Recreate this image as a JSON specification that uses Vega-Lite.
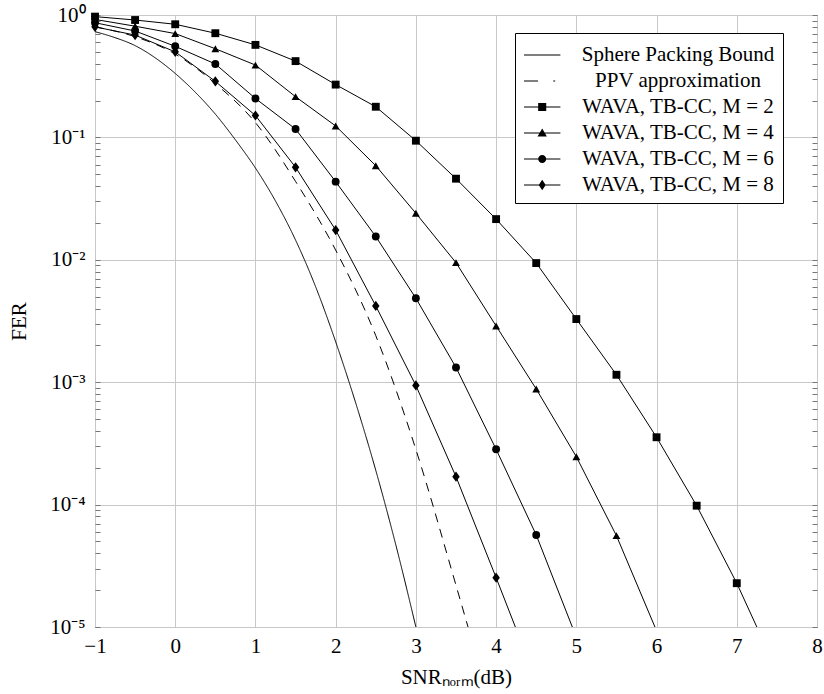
{
  "$schema": "https://vega.github.io/schema/vega-lite/v6.json",
  "width": 722,
  "height": 612,
  "autosize": {"type": "none"},
  "padding": {"left": 95, "top": 15, "right": 7, "bottom": 67},
  "background": "white",
  "config": {
    "view": {"stroke": "black", "strokeWidth": 1},
    "font": "Liberation Serif"
  },
  "data": {
    "values": [
      {"series": "Sphere Packing Bound", "snr": -1, "fer": 0.731},
      {"series": "Sphere Packing Bound", "snr": -0.75, "fer": 0.653},
      {"series": "Sphere Packing Bound", "snr": -0.5, "fer": 0.562},
      {"series": "Sphere Packing Bound", "snr": -0.25, "fer": 0.447},
      {"series": "Sphere Packing Bound", "snr": 0, "fer": 0.333},
      {"series": "Sphere Packing Bound", "snr": 0.25, "fer": 0.234},
      {"series": "Sphere Packing Bound", "snr": 0.5, "fer": 0.155},
      {"series": "Sphere Packing Bound", "snr": 0.75, "fer": 0.0955},
      {"series": "Sphere Packing Bound", "snr": 1, "fer": 0.0562},
      {"series": "Sphere Packing Bound", "snr": 1.25, "fer": 0.0302},
      {"series": "Sphere Packing Bound", "snr": 1.5, "fer": 0.0145},
      {"series": "Sphere Packing Bound", "snr": 1.75, "fer": 0.00603},
      {"series": "Sphere Packing Bound", "snr": 2, "fer": 0.00214},
      {"series": "Sphere Packing Bound", "snr": 2.25, "fer": 0.000676},
      {"series": "Sphere Packing Bound", "snr": 2.5, "fer": 0.0001905},
      {"series": "Sphere Packing Bound", "snr": 2.75, "fer": 0.0000468},
      {"series": "Sphere Packing Bound", "snr": 3, "fer": 0.00001},
      {"series": "PPV approximation", "snr": -1, "fer": 0.8},
      {"series": "PPV approximation", "snr": -0.5, "fer": 0.665},
      {"series": "PPV approximation", "snr": 0, "fer": 0.48},
      {"series": "PPV approximation", "snr": 0.5, "fer": 0.275},
      {"series": "PPV approximation", "snr": 1, "fer": 0.132},
      {"series": "PPV approximation", "snr": 1.5, "fer": 0.0437},
      {"series": "PPV approximation", "snr": 2, "fer": 0.012},
      {"series": "PPV approximation", "snr": 2.5, "fer": 0.0024},
      {"series": "PPV approximation", "snr": 3, "fer": 0.000282},
      {"series": "PPV approximation", "snr": 3.5, "fer": 0.0000219},
      {"series": "PPV approximation", "snr": 3.65, "fer": 0.00001},
      {"series": "WAVA, TB-CC, M = 2", "snr": -1, "fer": 0.97},
      {"series": "WAVA, TB-CC, M = 2", "snr": -0.5, "fer": 0.91},
      {"series": "WAVA, TB-CC, M = 2", "snr": 0, "fer": 0.84},
      {"series": "WAVA, TB-CC, M = 2", "snr": 0.5, "fer": 0.71},
      {"series": "WAVA, TB-CC, M = 2", "snr": 1, "fer": 0.57},
      {"series": "WAVA, TB-CC, M = 2", "snr": 1.5, "fer": 0.42},
      {"series": "WAVA, TB-CC, M = 2", "snr": 2, "fer": 0.27},
      {"series": "WAVA, TB-CC, M = 2", "snr": 2.5, "fer": 0.178},
      {"series": "WAVA, TB-CC, M = 2", "snr": 3, "fer": 0.094},
      {"series": "WAVA, TB-CC, M = 2", "snr": 3.5, "fer": 0.046},
      {"series": "WAVA, TB-CC, M = 2", "snr": 4, "fer": 0.0215},
      {"series": "WAVA, TB-CC, M = 2", "snr": 4.5, "fer": 0.0094},
      {"series": "WAVA, TB-CC, M = 2", "snr": 5, "fer": 0.00328},
      {"series": "WAVA, TB-CC, M = 2", "snr": 5.5, "fer": 0.00115},
      {"series": "WAVA, TB-CC, M = 2", "snr": 6, "fer": 0.000355},
      {"series": "WAVA, TB-CC, M = 2", "snr": 6.5, "fer": 0.000098},
      {"series": "WAVA, TB-CC, M = 2", "snr": 7, "fer": 0.0000228},
      {"series": "WAVA, TB-CC, M = 2", "snr": 7.25, "fer": 0.00001},
      {"series": "WAVA, TB-CC, M = 4", "snr": -1, "fer": 0.92},
      {"series": "WAVA, TB-CC, M = 4", "snr": -0.5, "fer": 0.81},
      {"series": "WAVA, TB-CC, M = 4", "snr": 0, "fer": 0.705},
      {"series": "WAVA, TB-CC, M = 4", "snr": 0.5, "fer": 0.53},
      {"series": "WAVA, TB-CC, M = 4", "snr": 1, "fer": 0.39},
      {"series": "WAVA, TB-CC, M = 4", "snr": 1.5, "fer": 0.215},
      {"series": "WAVA, TB-CC, M = 4", "snr": 2, "fer": 0.124},
      {"series": "WAVA, TB-CC, M = 4", "snr": 2.5, "fer": 0.0587},
      {"series": "WAVA, TB-CC, M = 4", "snr": 3, "fer": 0.024},
      {"series": "WAVA, TB-CC, M = 4", "snr": 3.5, "fer": 0.00947},
      {"series": "WAVA, TB-CC, M = 4", "snr": 4, "fer": 0.00288},
      {"series": "WAVA, TB-CC, M = 4", "snr": 4.5, "fer": 0.00088},
      {"series": "WAVA, TB-CC, M = 4", "snr": 5, "fer": 0.000246},
      {"series": "WAVA, TB-CC, M = 4", "snr": 5.5, "fer": 0.0000557},
      {"series": "WAVA, TB-CC, M = 4", "snr": 5.98, "fer": 0.00001},
      {"series": "WAVA, TB-CC, M = 6", "snr": -1, "fer": 0.865},
      {"series": "WAVA, TB-CC, M = 6", "snr": -0.5, "fer": 0.74},
      {"series": "WAVA, TB-CC, M = 6", "snr": 0, "fer": 0.555},
      {"series": "WAVA, TB-CC, M = 6", "snr": 0.5, "fer": 0.398},
      {"series": "WAVA, TB-CC, M = 6", "snr": 1, "fer": 0.208},
      {"series": "WAVA, TB-CC, M = 6", "snr": 1.5, "fer": 0.117},
      {"series": "WAVA, TB-CC, M = 6", "snr": 2, "fer": 0.0435},
      {"series": "WAVA, TB-CC, M = 6", "snr": 2.5, "fer": 0.0155},
      {"series": "WAVA, TB-CC, M = 6", "snr": 3, "fer": 0.00485},
      {"series": "WAVA, TB-CC, M = 6", "snr": 3.5, "fer": 0.00132},
      {"series": "WAVA, TB-CC, M = 6", "snr": 4, "fer": 0.000283},
      {"series": "WAVA, TB-CC, M = 6", "snr": 4.5, "fer": 0.0000565},
      {"series": "WAVA, TB-CC, M = 6", "snr": 4.95, "fer": 0.00001},
      {"series": "WAVA, TB-CC, M = 8", "snr": -1, "fer": 0.8},
      {"series": "WAVA, TB-CC, M = 8", "snr": -0.5, "fer": 0.685},
      {"series": "WAVA, TB-CC, M = 8", "snr": 0, "fer": 0.5},
      {"series": "WAVA, TB-CC, M = 8", "snr": 0.5, "fer": 0.287},
      {"series": "WAVA, TB-CC, M = 8", "snr": 1, "fer": 0.151},
      {"series": "WAVA, TB-CC, M = 8", "snr": 1.5, "fer": 0.057},
      {"series": "WAVA, TB-CC, M = 8", "snr": 2, "fer": 0.0175},
      {"series": "WAVA, TB-CC, M = 8", "snr": 2.5, "fer": 0.0042},
      {"series": "WAVA, TB-CC, M = 8", "snr": 3, "fer": 0.00094},
      {"series": "WAVA, TB-CC, M = 8", "snr": 3.5, "fer": 0.000169},
      {"series": "WAVA, TB-CC, M = 8", "snr": 4, "fer": 0.0000253},
      {"series": "WAVA, TB-CC, M = 8", "snr": 4.24, "fer": 0.00001}
    ]
  },
  "encoding": {
    "x": {
      "field": "snr",
      "type": "quantitative",
      "scale": {"domain": [-1, 8], "nice": false, "zero": false},
      "axis": {
        "values": [-1, 0, 1, 2, 3, 4, 5, 6, 7, 8],
        "grid": true,
        "gridColor": "#c8c8c8",
        "gridWidth": 1,
        "domain": false,
        "ticks": false,
        "labelFont": "Liberation Serif",
        "labelFontSize": 21,
        "labelColor": "black",
        "labelFlush": false,
        "labelPadding": 8,
        "title": "SNRₙₒᵣₘ(dB)",
        "titleFont": "Liberation Serif",
        "titleFontSize": 21,
        "titleFontWeight": "normal",
        "titleColor": "black",
        "titlePadding": 10
      }
    }
  },
  "layer": [
    {
      "transform": [{"filter": {"field": "series", "oneOf": ["Sphere Packing Bound", "PPV approximation"]}}],
      "mark": {"type": "line", "interpolate": "monotone", "color": "black", "strokeWidth": 1},
      "encoding": {
        "y": {
          "field": "fer",
          "type": "quantitative",
          "scale": {"type": "log", "domain": [0.00001, 1], "nice": false},
          "axis": {
            "orient": "left",
            "offset": -5,
            "values": [0.00001, 0.00002, 0.00003, 0.00004, 0.00005, 0.00006, 0.00007, 0.00008, 0.00009, 0.0001, 0.0002, 0.0003, 0.0004, 0.0005, 0.0006, 0.0007, 0.0008, 0.0009, 0.001, 0.002, 0.003, 0.004, 0.005, 0.006, 0.007, 0.008, 0.009, 0.01, 0.02, 0.03, 0.04, 0.05, 0.06, 0.07, 0.08, 0.09, 0.1, 0.2, 0.3, 0.4, 0.5, 0.6, 0.7, 0.8, 0.9, 1],
            "grid": true,
            "gridColor": "#c8c8c8",
            "gridOpacity": {"condition": {"test": "abs(log(datum.value)/LN10 - round(log(datum.value)/LN10)) < 0.01", "value": 1}, "value": 0},
            "domain": false,
            "ticks": true,
            "tickSize": 5,
            "tickColor": "#777777",
            "labelExpr": "abs(log(datum.value)/LN10 - round(log(datum.value)/LN10)) < 0.01 ? ['10⁰','10⁻¹','10⁻²','10⁻³','10⁻⁴','10⁻⁵'][round(-log(datum.value)/LN10)] : ''",
            "labelFont": "Liberation Serif",
            "labelFontSize": 21,
            "labelColor": "black",
            "labelPadding": 10,
            "labelOverlap": false,
            "labelFlush": false,
            "title": "FER",
            "titleFont": "Liberation Serif",
            "titleFontSize": 21,
            "titleFontWeight": "normal",
            "titleColor": "black",
            "titlePadding": 20
          }
        },
        "strokeDash": {
          "field": "series",
          "type": "nominal",
          "scale": {"domain": ["Sphere Packing Bound", "PPV approximation"], "range": [[1, 0], [9, 7]]},
          "legend": null
        }
      }
    },
    {
      "transform": [{"filter": "indexof(datum.series, 'WAVA') === 0"}],
      "mark": {"type": "line", "color": "black", "strokeWidth": 1},
      "encoding": {
        "y": {"field": "fer", "type": "quantitative", "scale": {"type": "log", "domain": [0.00001, 1], "nice": false}, "axis": null},
        "detail": {"field": "series", "type": "nominal"}
      }
    },
    {
      "transform": [{"filter": "indexof(datum.series, 'WAVA') === 0 && datum.fer > 0.0000105"}],
      "mark": {"type": "point", "filled": true, "color": "black", "opacity": 1, "size": 62, "strokeWidth": 0},
      "encoding": {
        "y": {
          "field": "fer",
          "type": "quantitative",
          "scale": {"type": "log", "domain": [0.00001, 1], "nice": false},
          "axis": {
            "orient": "right",
            "offset": -5,
            "values": [0.00001, 0.00002, 0.00003, 0.00004, 0.00005, 0.00006, 0.00007, 0.00008, 0.00009, 0.0001, 0.0002, 0.0003, 0.0004, 0.0005, 0.0006, 0.0007, 0.0008, 0.0009, 0.001, 0.002, 0.003, 0.004, 0.005, 0.006, 0.007, 0.008, 0.009, 0.01, 0.02, 0.03, 0.04, 0.05, 0.06, 0.07, 0.08, 0.09, 0.1, 0.2, 0.3, 0.4, 0.5, 0.6, 0.7, 0.8, 0.9, 1],
            "labels": false,
            "grid": false,
            "domain": false,
            "ticks": true,
            "tickSize": 5,
            "tickColor": "#777777",
            "title": null
          }
        },
        "shape": {
          "field": "series",
          "type": "nominal",
          "scale": {
            "domain": ["WAVA, TB-CC, M = 2", "WAVA, TB-CC, M = 4", "WAVA, TB-CC, M = 6", "WAVA, TB-CC, M = 8"],
            "range": ["square", "triangle-up", "circle", "M0,-1.3L0.95,0L0,1.3L-0.95,0Z"]
          },
          "legend": null
        }
      }
    },
    {
      "mark": {"type": "point", "filled": true, "color": "black", "strokeWidth": 0, "opacity": 0},
      "encoding": {
        "y": {"field": "fer", "type": "quantitative", "scale": {"type": "log", "domain": [0.00001, 1], "nice": false}, "axis": null},
        "shape": {
          "field": "series",
          "type": "nominal",
          "scale": {
            "domain": ["Sphere Packing Bound", "PPV approximation", "WAVA, TB-CC, M = 2", "WAVA, TB-CC, M = 4", "WAVA, TB-CC, M = 6", "WAVA, TB-CC, M = 8"],
            "range": [
              "M-1,-0.04H1.8V0.04H-1Z",
              "M-1,-0.04H0.08V0.04H-1ZM1.25,-0.04H1.4V0.04H1.25Z",
              "M-1,-0.04H1.8V0.04H-1ZM0.09,-0.31H0.71V0.31H0.09Z",
              "M-1,-0.04H1.8V0.04H-1ZM0.4,-0.34L0.76,0.27H0.04Z",
              "M-1,-0.04H1.8V0.04H-1ZM0.71,0A0.31,0.31,0,1,1,0.09,0A0.31,0.31,0,1,1,0.71,0Z",
              "M-1,-0.04H1.8V0.04H-1ZM0.4,-0.4L0.67,0L0.4,0.4L0.13,0Z"
            ]
          },
          "legend": {
            "orient": "none",
            "legendX": 420,
            "legendY": 18,
            "title": null,
            "labelFont": "Liberation Serif",
            "labelFontSize": 21,
            "labelColor": "black",
            "labelLimit": 400,
            "labelAlign": "center",
            "labelOffset": 127,
            "symbolSize": 676,
            "symbolOpacity": 1,
            "strokeColor": "black",
            "fillColor": "white",
            "padding": 8,
            "rowPadding": 2,
            "encode": {
              "symbols": {"update": {"opacity": {"value": 1}, "fill": {"value": "black"}, "fillOpacity": {"value": 1}}}
            }
          }
        }
      }
    }
  ],
  "resolve": {"scale": {"shape": "independent"}, "axis": {"y": "independent"}}
}
